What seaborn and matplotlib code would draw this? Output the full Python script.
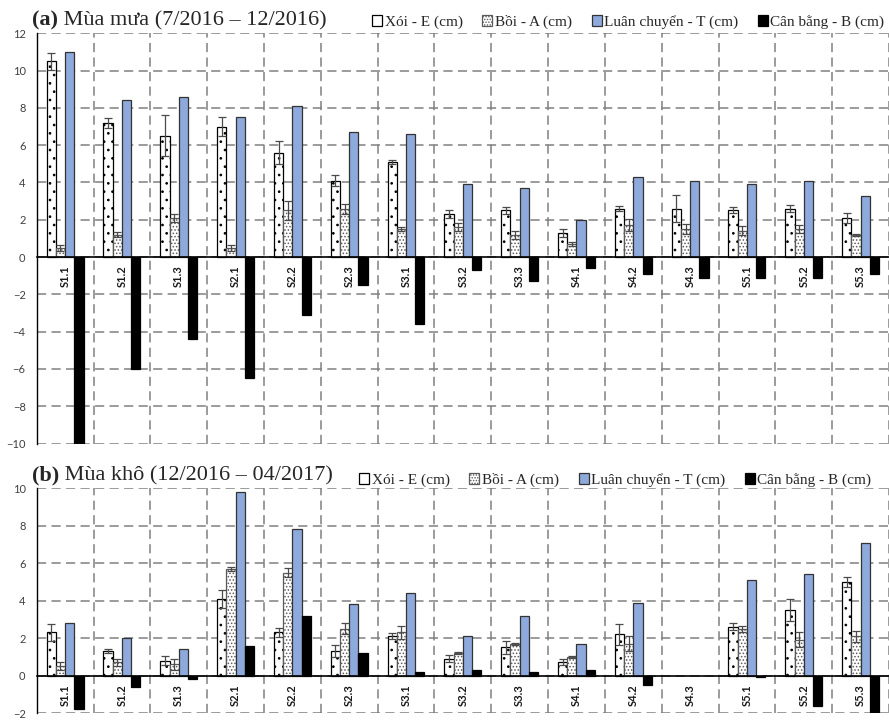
import numpy as np
import pandas as pd
import matplotlib
matplotlib.use("Agg")
import matplotlib.pyplot as plt
import seaborn as sns
from matplotlib.patches import Patch
from matplotlib.text import Annotation

# Monitoring sites
sites = ["S1.1", "S1.2", "S1.3", "S2.1", "S2.2", "S2.3", "S3.1", "S3.2",
         "S3.3", "S4.1", "S4.2", "S4.3", "S5.1", "S5.2", "S5.3"]
series = ["Xói - E (cm)", "Bồi - A (cm)", "Luân chuyển - T (cm)", "Cân bằng - B (cm)"]

# (a) Wet season 7/2016 - 12/2016
E_wet = [10.5, 7.2, 6.5, 7.0, 5.6, 4.1, 5.1, 2.3, 2.5, 1.3, 2.6, 2.6, 2.5, 2.6, 2.1]
E_wet_err = [0.45, 0.27, 1.1, 0.5, 0.6, 0.3, 0.1, 0.23, 0.21, 0.23, 0.14, 0.71, 0.16, 0.21, 0.27]
A_wet = [0.5, 1.2, 2.1, 0.5, 2.5, 2.6, 1.5, 1.6, 1.2, 0.7, 1.7, 1.5, 1.4, 1.5, 1.2]
A_wet_err = [0.15, 0.14, 0.23, 0.17, 0.52, 0.27, 0.09, 0.21, 0.21, 0.12, 0.32, 0.28, 0.24, 0.23, 0.05]
T_wet = [11.0, 8.4, 8.6, 7.5, 8.1, 6.7, 6.6, 3.9, 3.7, 2.0, 4.3, 4.1, 3.9, 4.1, 3.3]
B_wet = [-10.0, -6.0, -4.4, -6.5, -3.1, -1.5, -3.6, -0.7, -1.3, -0.6, -0.9, -1.1, -1.1, -1.1, -0.9]

# (b) Dry season 12/2016 - 04/2017
E_dry = [2.3, 1.3, 0.8, 4.1, 2.3, 1.3, 2.1, 0.9, 1.5, 0.7, 2.2, 0.0, 2.6, 3.5, 5.0]
E_dry_err = [0.43, 0.1, 0.24, 0.49, 0.24, 0.33, 0.17, 0.18, 0.33, 0.16, 0.55, 0.0, 0.18, 0.6, 0.28]
A_dry = [0.5, 0.7, 0.6, 5.7, 5.5, 2.5, 2.3, 1.2, 1.7, 1.0, 1.7, 0.0, 2.5, 1.9, 2.1]
A_dry_err = [0.21, 0.19, 0.28, 0.09, 0.25, 0.29, 0.35, 0.05, 0.05, 0.05, 0.4, 0.0, 0.17, 0.4, 0.3]
T_dry = [2.8, 2.0, 1.4, 9.8, 7.8, 3.8, 4.4, 2.1, 3.2, 1.7, 3.9, 0.0, 5.1, 5.4, 7.1]
B_dry = [-1.8, -0.6, -0.2, 1.6, 3.2, 1.2, 0.2, 0.3, 0.2, 0.3, -0.5, 0.0, -0.1, -1.6, -2.9]

sns.set_theme(style="white")
plt.rcParams["font.family"] = ["Lato", "DejaVu Sans"]
plt.rcParams["hatch.linewidth"] = 0.7
SERIF = ["Liberation Serif", "DejaVu Serif"]

FACE = ["white", "white", "#8EA9DB", "black"]
EDGE = ["black", "#5a5a5a", "#333333", "black"]
HATCH = ["..", ".....", None, None]
LEG_HATCH = [None, "......", None, None]
GRID = dict(color="#808080", linewidth=1.1, linestyle=(0, (6, 3.5)))


def draw_panel(ax, cols, errs, ylim, yticks, xmax):
    df = pd.DataFrame({
        "site": sites * len(series),
        "series": np.repeat(series, len(sites)),
        "value": np.concatenate(cols),
    })
    sns.barplot(data=df, x="site", y="value", hue="series", order=sites,
                hue_order=series, width=0.65, gap=0, dodge=True,
                errorbar=None, legend=False, palette=FACE, ax=ax, zorder=3)
    for i, cont in enumerate(ax.containers):
        for p in cont.patches:
            p.set_facecolor(FACE[i])
            p.set_edgecolor(EDGE[i])
            p.set_linewidth(0.9 if p.get_height() != 0 else 0)
            if HATCH[i]:
                p.set_hatch(HATCH[i])
    # standard-deviation whiskers on erosion and deposition bars
    for i in range(2):
        cont = ax.containers[i]
        xs = np.array([p.get_x() + p.get_width() / 2 for p in cont.patches])
        ys = np.array(cols[i], dtype=float)
        es = np.array(errs[i], dtype=float)
        keep = ys > 0
        ax.errorbar(xs[keep], ys[keep], yerr=es[keep], fmt="none",
                    ecolor="#4a4a4a", elinewidth=0.9, capsize=2.8,
                    capthick=0.9, zorder=4)

    ax.set_xlim(-0.5, xmax)
    ax.set_ylim(*ylim)
    ax.set_yticks(yticks)
    ax.set_xticks(np.arange(-0.5, len(sites), 1), minor=True)
    ax.set_axisbelow(True)
    ax.yaxis.grid(True, which="major", **GRID)
    ax.xaxis.grid(True, which="minor", **GRID)
    ax.xaxis.grid(False, which="major")
    ax.set_xlabel("")
    ax.set_ylabel("")

    for s in ("top", "right"):
        ax.spines[s].set_visible(False)
    ax.spines["left"].set_color("black")
    ax.spines["left"].set_linewidth(1.0)
    ax.spines["bottom"].set_position(("data", 0))
    ax.spines["bottom"].set_color("black")
    ax.spines["bottom"].set_linewidth(1.2)
    ax.spines["bottom"].set_zorder(5)

    ax.tick_params(axis="x", which="both", length=0, pad=6,
                   labelrotation=90, labelsize=8, labelcolor="#1a1a1a")
    for lab in ax.get_xticklabels():
        lab.set_fontweight("bold")
    ax.tick_params(axis="y", length=0, pad=8, labelsize=8, labelcolor="#404040")


def header(fig, x, y, tag, text, legend_right, legend_y):
    t1 = fig.text(x, y, tag, family=SERIF, fontsize=16, fontweight="bold",
                  va="center", ha="left")
    ann = Annotation(" " + text, xy=(1, 0), xycoords=t1, va="bottom",
                     ha="left", family=SERIF, fontsize=16)
    fig.add_artist(ann)
    handles = [Patch(facecolor=FACE[i], edgecolor=EDGE[i], hatch=LEG_HATCH[i],
                     linewidth=0.9) for i in range(4)]
    fig.legend(handles, series, loc="center right",
               bbox_to_anchor=(legend_right, legend_y), ncol=4,
               frameon=False, prop={"family": SERIF, "size": 11},
               handlelength=0.65, handleheight=0.65, handletextpad=0.15,
               columnspacing=1.3, borderpad=0, borderaxespad=0)


W, H = 889, 721
fig = plt.figure(figsize=(W / 100, H / 100), dpi=100)
xmax = 14.5 - 9.4 / 57.4

ax_a = fig.add_axes([36.7 / W, (H - 443.5) / H, 1 - 36.7 / W, (443.5 - 33.3) / H])
draw_panel(ax_a, [E_wet, A_wet, T_wet, B_wet], [E_wet_err, A_wet_err],
           (-10, 12), np.arange(-10, 13, 2), xmax)

ax_b = fig.add_axes([36.7 / W, (H - 713.0) / H, 1 - 36.7 / W, (713.0 - 488.3) / H])
draw_panel(ax_b, [E_dry, A_dry, T_dry, B_dry], [E_dry_err, A_dry_err],
           (-2, 10), np.arange(-2, 11, 2), xmax)

header(fig, 32 / W, 1 - 20 / H, "(a)", "Mùa mưa (7/2016 – 12/2016)",
       884 / W, 1 - 22 / H)
header(fig, 32 / W, 1 - 475 / H, "(b)", "Mùa khô (12/2016 – 04/2017)",
       871 / W, 1 - 480 / H)

fig.savefig("out.png", dpi=100)
